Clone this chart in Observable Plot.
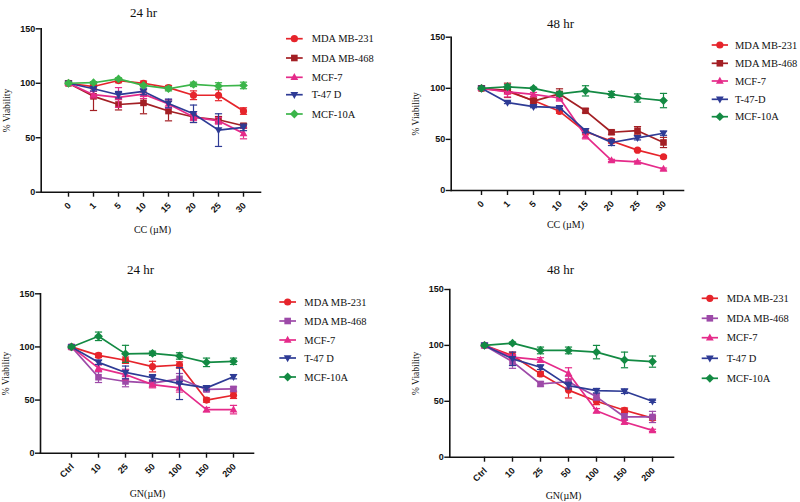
<!DOCTYPE html>
<html><head><meta charset="utf-8">
<script src="https://cdn.jsdelivr.net/npm/d3@7"></script>
<script src="https://cdn.jsdelivr.net/npm/@observablehq/plot@0.6"></script>
<style>
html,body{margin:0;padding:0;background:#fff;overflow:hidden}
#root{position:relative;width:800px;height:502px;overflow:hidden;background:#fff}
.panel{position:absolute;width:400px;height:252px}
.panel svg{position:absolute;left:0;top:0;overflow:visible}
</style></head><body><div id="root"></div>
<script>
// ---------- data ----------
const ccDoses = ["0","1","5","10","15","20","25","30"];
const gnDoses = ["Ctrl","10","25","50","100","150","200"];
const namesA = ["MDA MB-231","MDA MB-468","MCF-7","T-47 D","MCF-10A"];
const namesB = ["MDA MB-231","MDA MB-468","MCF-7","T-47-D","MCF-10A"];
const yTicks = [0, 50, 100, 150];

// CC 24 hr (rows: MDA MB-231, MDA MB-468, MCF-7, T-47 D, MCF-10A)
const cc24Values = [
  [100, 97, 102.5, 100, 96, 89, 89, 74.5],
  [100, 88, 80.5, 82, 74.5, 69, 66.5, 61],
  [100, 89.5, 87, 90, 81, 69, 65.5, 54],
  [100, 95, 89.5, 92.5, 81.5, 72, 57, 59.5],
  [100, 100.5, 104, 98, 95, 99, 97.5, 98]
];
const cc24Errors = [
  [1, 2, 2, 2, 2, 4, 5, 3],
  [2, 13, 5, 10, 9, 5, 3, 2],
  [1, 3, 9, 4, 4, 3, 3, 5],
  [1, 2, 3, 3, 4, 8, 15, 3],
  [1, 1, 1, 1, 2, 2, 3, 3]
];
// CC 48 hr
const cc48Values = [
  [100, 97, 88, 77.5, 57.5, 48.5, 39.5, 33],
  [100, 98, 87.5, 94.5, 78, 57, 58.5, 47],
  [100, 96.5, 94, 90.5, 53.5, 29.5, 28, 21],
  [100, 86, 82, 81, 58.5, 47, 51.5, 56],
  [100, 101.5, 100, 94.5, 97.5, 94, 90.5, 88]
];
const cc48Errors = [
  [1, 2, 2, 2, 3, 2, 1, 1],
  [2, 7, 3, 5, 2, 2, 4, 5],
  [1, 5, 2, 3, 3, 1, 1, 1],
  [1, 1, 1, 1, 2, 3, 2, 2],
  [1, 2, 1, 2, 5, 3, 4, 7]
];
// GN 24 hr
const gn24Values = [
  [100, 92, 87.5, 81.5, 83, 50, 54.5],
  [100, 71.5, 67.5, 66, 70, 60, 60.5],
  [100, 80, 74, 64.5, 61.5, 41, 41],
  [100, 85.5, 76, 71, 65.5, 61.5, 72],
  [100, 110, 93.5, 94, 91.5, 85.5, 86.5]
];
const gn24Errors = [
  [1, 2, 3, 5, 3, 2, 3],
  [1, 5, 5, 3, 5, 2, 2],
  [1, 3, 5, 3, 4, 2, 4],
  [1, 2, 6, 3, 15, 2, 2],
  [1, 4, 8, 2, 3, 4, 3]
];
// GN 48 hr
const gn48Values = [
  [100, 91, 74.5, 60, 50, 42, 35],
  [100, 85.5, 65.5, 67.5, 54, 36, 36],
  [100, 89.5, 87, 75, 41.5, 31.5, 24],
  [100, 88, 80.5, 64, 59.5, 59, 50],
  [100, 102, 95.5, 95.5, 94, 87, 85.5]
];
const gn48Errors = [
  [1, 3, 2, 7, 3, 2, 2],
  [1, 6, 2, 5, 3, 3, 5],
  [1, 2, 2, 5, 2, 2, 1],
  [1, 6, 2, 3, 2, 2, 1],
  [1, 1, 3, 3, 6, 7, 5]
];

const cc24Colors = ["#e6242b", "#a31f24", "#e52b8a", "#2e3b95", "#3bb54a"];
const cc48Colors = ["#e6242b", "#a31f24", "#e52b8a", "#2e3b95", "#138a43"];
const gnColors   = ["#e6242b", "#9d4aa8", "#e52b8a", "#2e3b95", "#138a43"];

// ---------- symbols ----------
const symCircle = {draw(c){ c.moveTo(3.6,0); c.arc(0,0,3.6,0,2*Math.PI); c.closePath(); }};
const symSquare = {draw(c){ c.moveTo(-3.3,-3.3); c.lineTo(3.3,-3.3); c.lineTo(3.3,3.3); c.lineTo(-3.3,3.3); c.closePath(); }};
const symTriUp  = {draw(c){ c.moveTo(0,-4.2); c.lineTo(3.9,2.8); c.lineTo(-3.9,2.8); c.closePath(); }};
const symTriDn  = {draw(c){ c.moveTo(0,4.2); c.lineTo(3.9,-2.8); c.lineTo(-3.9,-2.8); c.closePath(); }};
const symDiam   = {draw(c){ c.moveTo(0,-4.4); c.lineTo(4.4,0); c.lineTo(0,4.4); c.lineTo(-4.4,0); c.closePath(); }};
const symCap    = {draw(c){ c.moveTo(-3.6,0); c.lineTo(3.6,0); }};
const symbols = [symCircle, symSquare, symTriUp, symTriDn, symDiam];

// ---------- layout ----------
const panels = [
  {left:0, top:0, cats:ccDoses, values:cc24Values, errors:cc24Errors, names:namesA, colors:cc24Colors,
   f:{l:40.7, r:260, t:28.3, b:191.7}, xr:[55,255.7], title:"24 hr", titlePos:[143,7], xlabel:"CC (\u00b5M)", xlabelPos:[152,225], ylabelX:6,
   legend:{x1:286, x2:302.7, tx:311.7, rows:[38.7,58,77.3,94.7,114]}},
  {left:400, top:0, cats:ccDoses, values:cc48Values, errors:cc48Errors, names:namesB, colors:cc48Colors,
   f:{l:50.7, r:283, t:36.7, b:190}, xr:[65.7,278.3], title:"48 hr", titlePos:[160,18], xlabel:"CC (\u00b5M)", xlabelPos:[165,220], ylabelX:15,
   legend:{x1:311.7, x2:328, tx:335, rows:[45,63.3,81,99.3,116.7]}},
  {left:0, top:250, cats:gnDoses, values:gn24Values, errors:gn24Errors, names:namesA, colors:gnColors,
   f:{l:40, r:253, t:43.3, b:202.7}, xr:[55,248.3], title:"24 hr", titlePos:[140,14], xlabel:"GN(\u00b5M)", xlabelPos:[147,239], ylabelX:5,
   legend:{x1:279.3, x2:296, tx:304.3, rows:[52,71,90,108,127]}},
  {left:400, top:250, cats:gnDoses, values:gn48Values, errors:gn48Errors, names:namesA, colors:gnColors,
   f:{l:49.3, r:273, t:39, b:206.7}, xr:[66.7,268.3], title:"48 hr", titlePos:[160,14], xlabel:"GN(\u00b5M)", xlabelPos:[163,241], ylabelX:15,
   legend:{x1:301.7, x2:318, tx:326.7, rows:[48.3,68.3,87.7,108.3,128.3]}}
];

const W = 400, H = 252;
const root = document.getElementById("root");

for (const p of panels) {
  const div = document.createElement("div");
  div.className = "panel";
  div.style.left = p.left + "px";
  div.style.top = p.top + "px";
  root.appendChild(div);

  const marks = [];
  p.names.forEach((name, si) => {
    const rows = p.cats.map((c, i) => ({dose: c, v: p.values[si][i], e: p.errors[si][i]}));
    const col = p.colors[si];
    marks.push(Plot.ruleX(rows, {x: "dose", y1: d => d.v - d.e, y2: d => d.v + d.e, stroke: col, strokeWidth: 1.2}));
    marks.push(Plot.dot(rows, {x: "dose", y: d => d.v + d.e, symbol: symCap, r: 3, fill: "none", stroke: col, strokeWidth: 1.2}));
    marks.push(Plot.dot(rows, {x: "dose", y: d => d.v - d.e, symbol: symCap, r: 3, fill: "none", stroke: col, strokeWidth: 1.2}));
    marks.push(Plot.line(rows, {x: "dose", y: "v", stroke: col, strokeWidth: 1.7}));
    marks.push(Plot.dot(rows, {x: "dose", y: "v", symbol: symbols[si], r: 4, fill: col, stroke: "none"}));
  });

  const svg = Plot.plot({
    width: W, height: H,
    marginLeft: p.f.l, marginRight: W - p.f.r, marginTop: p.f.t, marginBottom: H - p.f.b,
    x: {type: "point", domain: p.cats, range: p.xr},
    y: {domain: [0, 150], range: [p.f.b, p.f.t]},
    style: {background: "transparent", color: "#111"},
    marks: [
      Plot.axisY({ticks: yTicks, tickSize: 5, tickPadding: 1, label: null, fontSize: 9, fontWeight: "bold",
                  fontFamily: "Liberation Sans, Arial, sans-serif", strokeWidth: 1.4, tickFormat: d => String(d)}),
      Plot.axisX({tickSize: 5, label: null, tickFormat: () => "", strokeWidth: 1.4}),
      Plot.text(p.cats, {x: d => d, frameAnchor: "bottom", dy: 12, dx: 1, rotate: -45, textAnchor: "end",
                         lineAnchor: "middle", fontSize: 9, fontWeight: "bold", fontFamily: "Liberation Sans, Arial, sans-serif", fill: "#111"}),
      Plot.frame({anchor: "left", strokeWidth: 1.6, stroke: "#111"}),
      Plot.frame({anchor: "bottom", strokeWidth: 1.6, stroke: "#111"}),
      ...marks,
      Plot.text([p.title], {frameAnchor: "top-left", dx: p.titlePos[0] - p.f.l, dy: p.titlePos[1] - p.f.t,
                            fontSize: 13, fontFamily: "Liberation Serif, Times New Roman, serif", fill: "#111", textAnchor: "middle"}),
      Plot.text([p.xlabel], {frameAnchor: "top-left", dx: p.xlabelPos[0] - p.f.l, dy: p.xlabelPos[1] - p.f.t,
                             fontSize: 10, fontFamily: "Liberation Serif, Times New Roman, serif", fill: "#111", textAnchor: "middle"}),
      Plot.text(["% Viability"], {frameAnchor: "left", dx: p.ylabelX - p.f.l, rotate: -90,
                                  fontSize: 9.5, fontFamily: "Liberation Serif, Times New Roman, serif", fill: "#111", textAnchor: "middle"})
    ]
  });
  div.appendChild(svg);

  // legend overlay
  const lg = d3.select(div).append("svg").attr("width", W).attr("height", H)
    .style("position", "absolute").style("left", "0px").style("top", "0px");
  p.names.forEach((name, si) => {
    const y = p.legend.rows[si];
    const col = p.colors[si];
    const g = lg.append("g");
    g.append("line").attr("x1", p.legend.x1).attr("x2", p.legend.x2).attr("y1", y).attr("y2", y)
      .attr("stroke", col).attr("stroke-width", 1.7);
    const path = d3.path();
    symbols[si].draw(path);
    g.append("path").attr("d", path.toString()).attr("fill", col)
      .attr("transform", `translate(${(p.legend.x1 + p.legend.x2) / 2},${y})`);
    g.append("text").attr("x", p.legend.tx).attr("y", y).attr("dy", "0.35em")
      .attr("font-family", "Liberation Serif, Times New Roman, serif").attr("font-size", 10.5)
      .attr("fill", "#111").text(name);
  });
}
</script>
</body></html>
